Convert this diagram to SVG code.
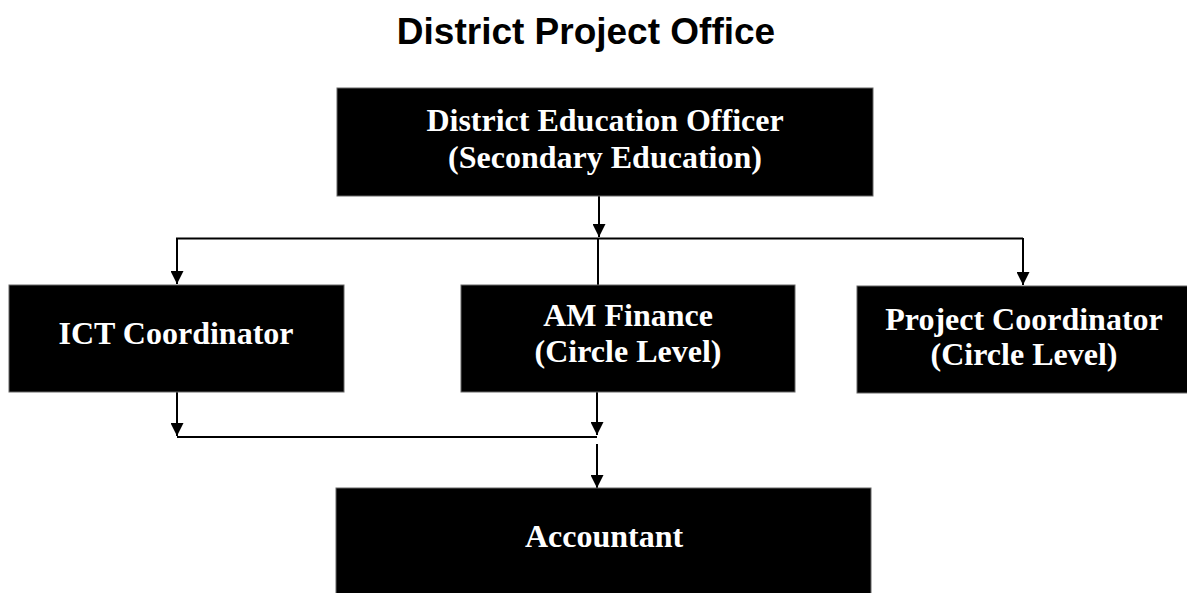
<svg xmlns="http://www.w3.org/2000/svg" width="1187" height="593" viewBox="0 0 1187 593">
<style>
.box{fill:#000;stroke:#666;stroke-width:1}
.lbl{font-family:"Liberation Serif","Times New Roman",serif;font-weight:bold;font-size:32px;fill:#fff;text-anchor:middle}
.title{font-family:"Liberation Sans",Arial,sans-serif;font-weight:bold;font-size:37px;fill:#000;text-anchor:middle}
.con{fill:none;stroke:#000;stroke-width:2}
</style>
<defs>
<marker id="arr" markerUnits="userSpaceOnUse" markerWidth="14" markerHeight="13" refX="13" refY="6.5" orient="auto">
<path d="M0,0 L13,6.5 L0,13 z" fill="#000"/>
</marker>
</defs>
<rect width="1187" height="593" fill="#fff"/>
<text class="title" x="586" y="44">District Project Office</text>

<g id="connectors">
<path class="con" d="M599 196 V237" marker-end="url(#arr)"/>
<path class="con" d="M176 238.5 H1023"/>
<path class="con" d="M177 238 V284" marker-end="url(#arr)"/>
<path class="con" d="M1023 238 V285" marker-end="url(#arr)"/>
<path class="con" d="M598 238 V285"/>
<path class="con" d="M177 392 V436" marker-end="url(#arr)"/>
<path class="con" d="M597 392 V435" marker-end="url(#arr)"/>
<path class="con" d="M177 437 H597"/>
<path class="con" d="M597 444 V488" marker-end="url(#arr)"/>
</g>

<g id="deo">
<rect class="box" x="337" y="88" width="536" height="108"/>
<text class="lbl" x="605" y="131">District Education Officer</text>
<text class="lbl" x="605" y="168">(Secondary Education)</text>
</g>

<g id="ict">
<rect class="box" x="9" y="285" width="335" height="107"/>
<text class="lbl" x="176" y="344">ICT Coordinator</text>
</g>

<g id="amfinance">
<rect class="box" x="461" y="285" width="334" height="107"/>
<text class="lbl" x="628" y="326">AM Finance</text>
<text class="lbl" x="628" y="362">(Circle Level)</text>
</g>

<g id="pc">
<rect class="box" x="857" y="286" width="336" height="107"/>
<text class="lbl" x="1024" y="330">Project Coordinator</text>
<text class="lbl" x="1024" y="365">(Circle Level)</text>
</g>

<g id="accountant">
<rect class="box" x="336" y="488" width="535" height="110"/>
<text class="lbl" x="604" y="547">Accountant</text>
</g>
</svg>
